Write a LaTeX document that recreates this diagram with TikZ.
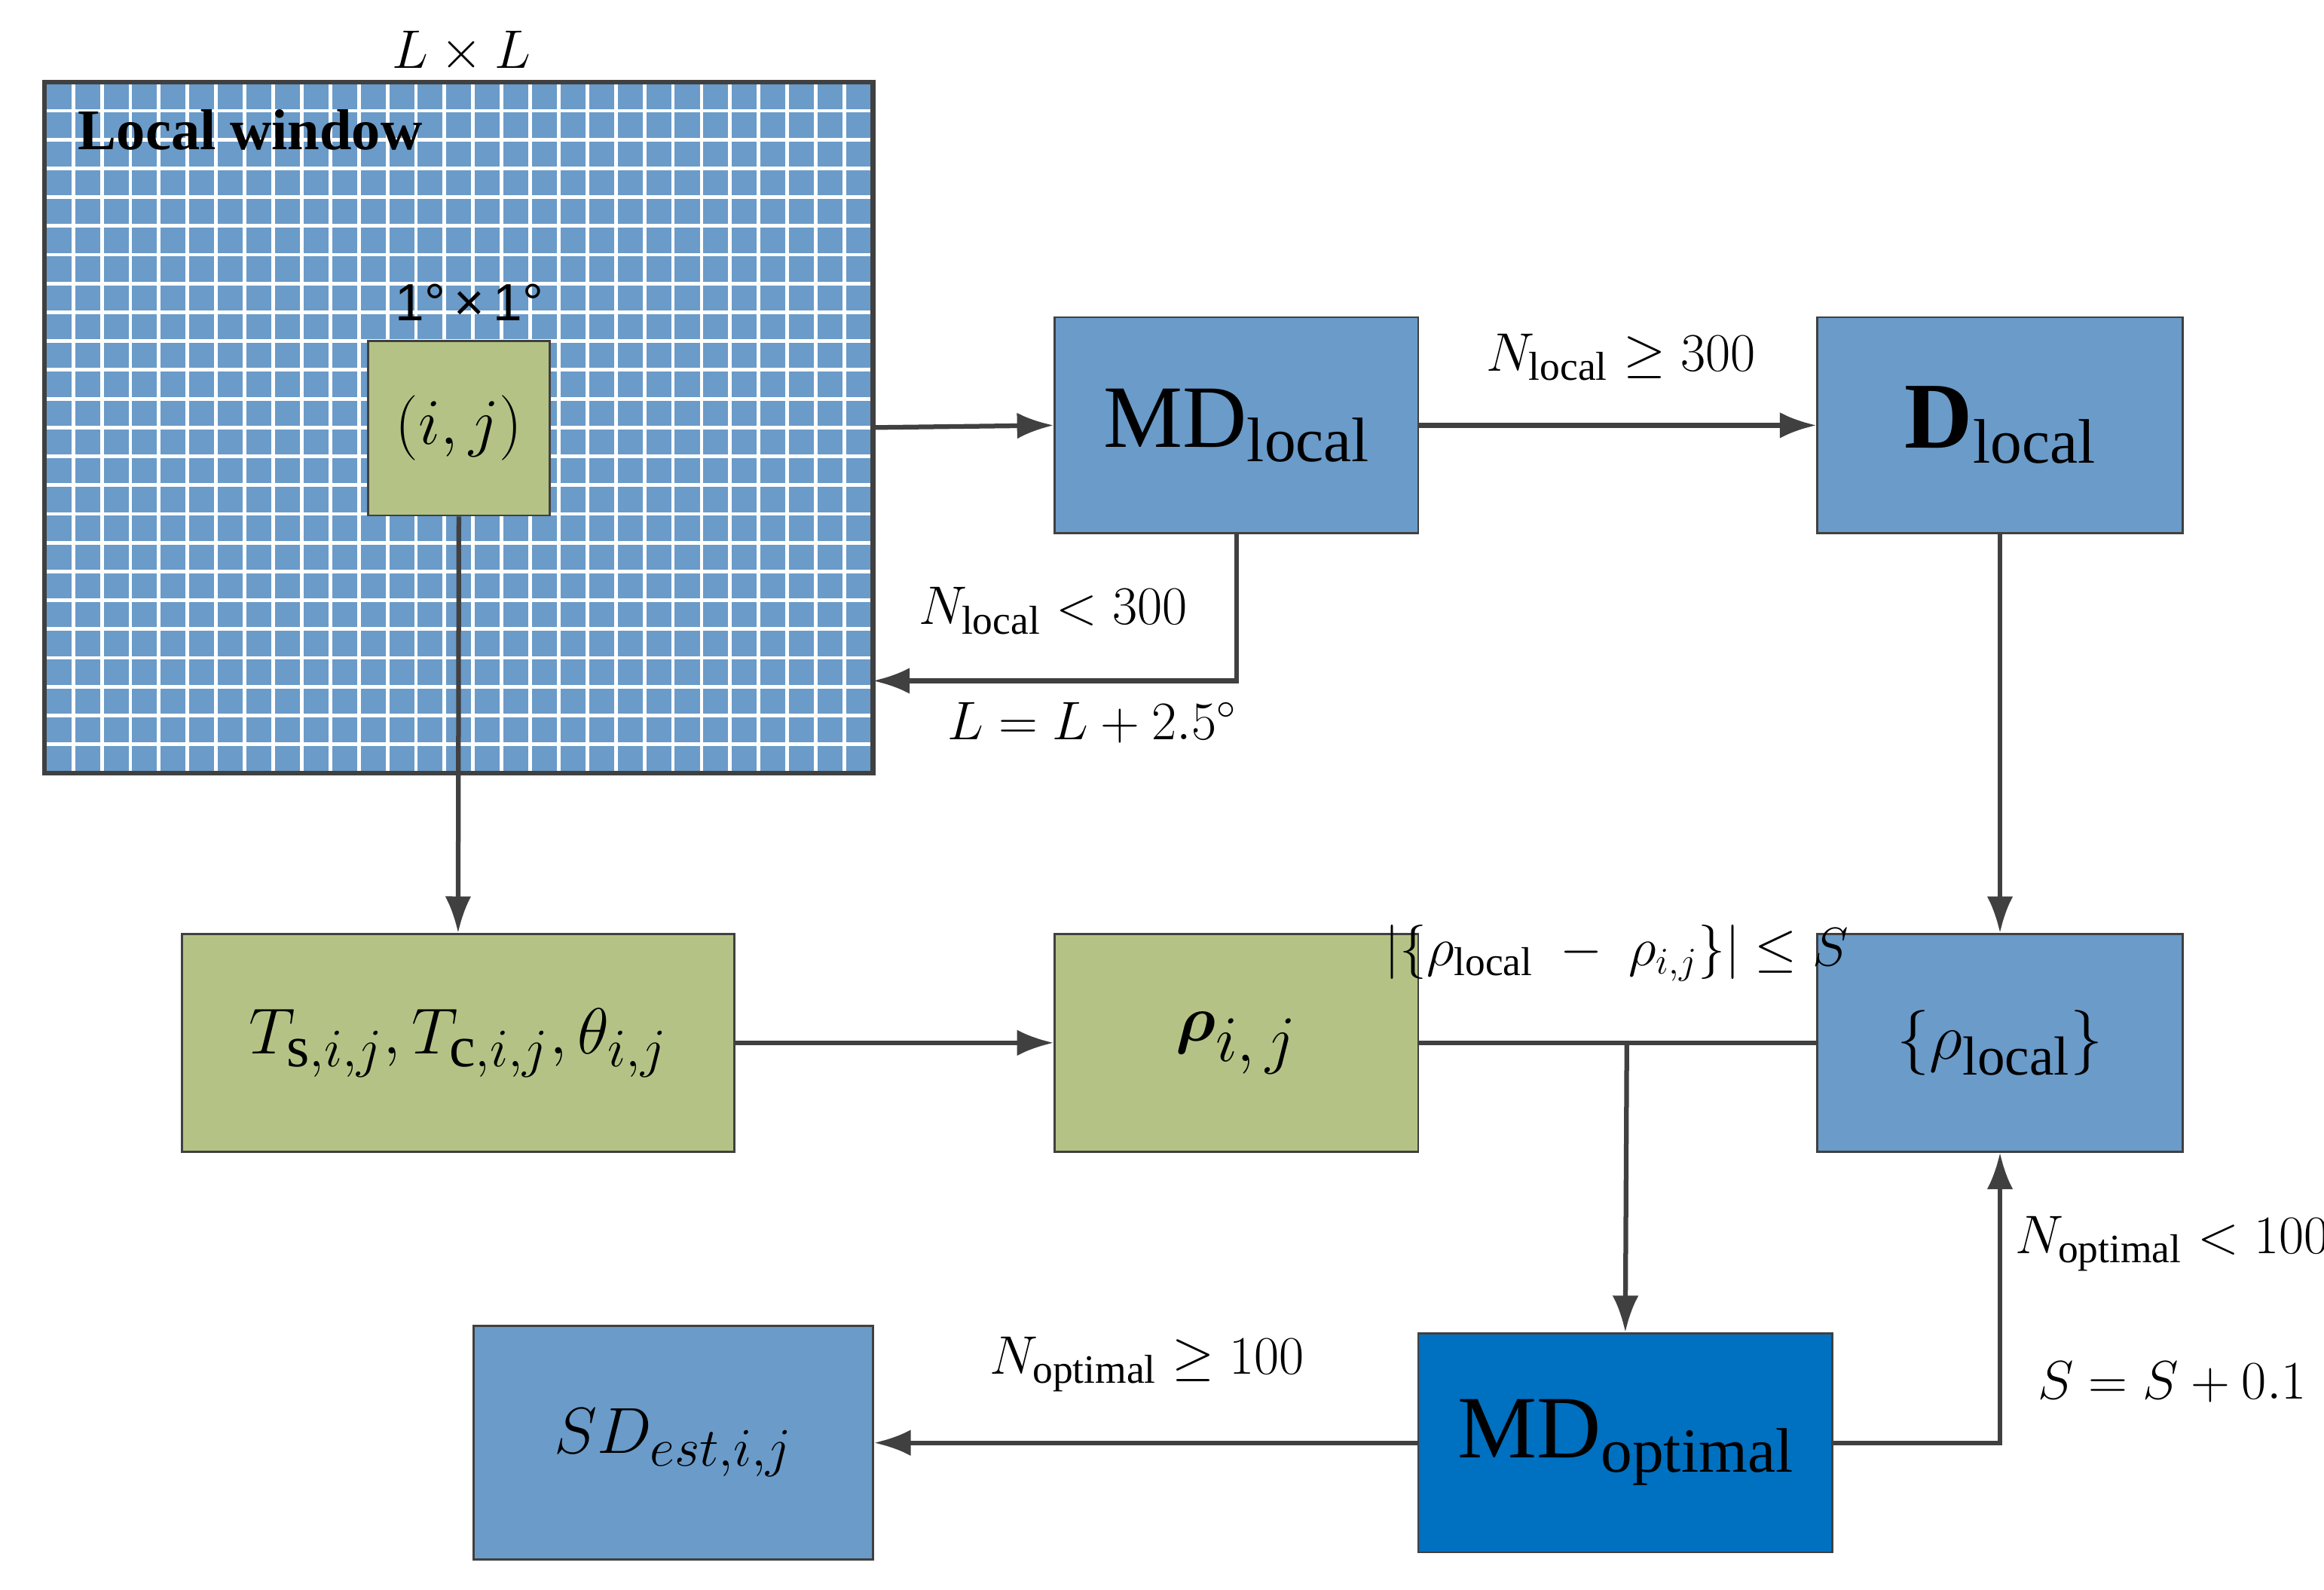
\documentclass[tikz,border=0pt]{standalone}
\usepackage{amsmath,bm}
\usepackage{fontspec}
\setmainfont{Liberation Serif}
\newfontfamily\sansf{Liberation Sans}
\usetikzlibrary{arrows.meta}
\definecolor{bl}{HTML}{6A9BC9}
\definecolor{gr}{HTML}{B4C385}
\definecolor{db}{HTML}{0070C0}
\definecolor{ln}{HTML}{404040}
\begin{document}
\begin{tikzpicture}[x=0.02cm,y=-0.02cm,
 box/.style={draw=ln,line width=0.8pt,inner sep=0pt},
 arr/.style={draw=ln,line width=1.8pt,-{Latex[length=14pt,width=10pt]}},
 ln/.style={draw=ln,line width=1.8pt},
 lab/.style={font=\fontsize{22}{26}\selectfont}]
\useasboundingbox (0,0) rectangle (1560,1067);
% grid
\fill[bl] (30,55) rectangle (586,519);
\foreach \i in {1,...,28} \draw[white,line width=1.4pt] ({30+\i*19.17},55) -- ({30+\i*19.17},519);
\foreach \j in {1,...,23} \draw[white,line width=1.4pt] (30,{55+\j*19.33}) -- (586,{55+\j*19.33});
\draw[ln,line width=1.8pt] (30,55) rectangle (586,519);
\node[coordinate] (grid) at (586,287) {};
\node[font=\fontsize{22}{26}\selectfont\bfseries] at (168,87) {Local window};
\node[lab] at (310,35) {$L\times L$};
\node[font=\sansf\fontsize{20}{24}\selectfont] at (315,203) {1°\,×\,1°};
\node[box,fill=gr,minimum width=122*0.02cm,minimum height=117*0.02cm,font=\fontsize{24}{28}\selectfont] (sq) at (308,287.5) {$(i,j)$};
% boxes
\node[box,fill=bl,minimum width=244*0.02cm,minimum height=145*0.02cm] (mdl) at (830,285.5) {\fontsize{34}{40}\selectfont MD\raisebox{-0.35ex}{\fontsize{24}{28}\selectfont local}};
\node[box,fill=bl,minimum width=245*0.02cm,minimum height=145*0.02cm] (dl) at (1342.5,285.5) {\fontsize{36}{40}\selectfont\bfseries D\raisebox{-0.35ex}{\fontsize{24}{28}\selectfont\mdseries local}};
\node[box,fill=gr,minimum width=371*0.02cm,minimum height=146*0.02cm,font=\fontsize{32}{36}\selectfont] (t) at (307.5,700) {$T_{\mathrm{s},i,j},T_{\mathrm{c},i,j},\theta_{i,j}$};
\node[box,fill=gr,minimum width=244*0.02cm,minimum height=146*0.02cm,font=\fontsize{36}{40}\selectfont] (rho) at (830,700) {$\bm{\rho}_{i,\,j}$};
\node[box,fill=bl,minimum width=245*0.02cm,minimum height=146*0.02cm,font=\fontsize{30}{36}\selectfont] (rl) at (1342.5,700) {$\{\rho_{\mathrm{local}}\}$};
\node[box,fill=db,minimum width=278*0.02cm,minimum height=147*0.02cm] (mdo) at (1091,968.5) {\fontsize{34}{40}\selectfont MD\raisebox{-0.35ex}{\fontsize{24}{28}\selectfont optimal}};
\node[box,fill=bl,minimum width=268*0.02cm,minimum height=157*0.02cm,font=\fontsize{30}{36}\selectfont] (sd) at (452,968.5) {$SD_{est,i,j}$};
% connectors
\draw[arr] (grid) -- (mdl.west);
\draw[arr] (mdl.east) -- (dl.west);
\node[lab] at (1088,240) {$N_{\mathrm{local}}\geq 300$};
\draw[arr] (mdl.south) |- (586,457);
\node[lab] at (707,410) {$N_{\mathrm{local}}<300$};
\node[lab] at (733,485) {$L=L+2.5^\circ$};
\draw[arr] (dl.south) -- (rl.north);
\draw[arr] (sq.south) -- (t.north);
\draw[arr] (t.east) -- (rho.west);
\draw[ln] (rho.east) -- (rl.west);
\coordinate (br) at (1092,700);
\draw[arr] (br) -- (mdo.north);
\node[lab] at (1085,640) {$\left|\{\rho_{\mathrm{local}}\ -\ \rho_{i,j}\}\right|\leq S$};
\draw[arr] (mdo.east) -| (rl.south);
\node[lab] at (1458,835) {$N_{\mathrm{optimal}}<100$};
\node[lab] at (1458,928) {$S=S+0.1$};
\draw[arr] (mdo.west) -- (sd.east);
\node[lab] at (770,916) {$N_{\mathrm{optimal}}\geq 100$};
\end{tikzpicture}
\end{document}
